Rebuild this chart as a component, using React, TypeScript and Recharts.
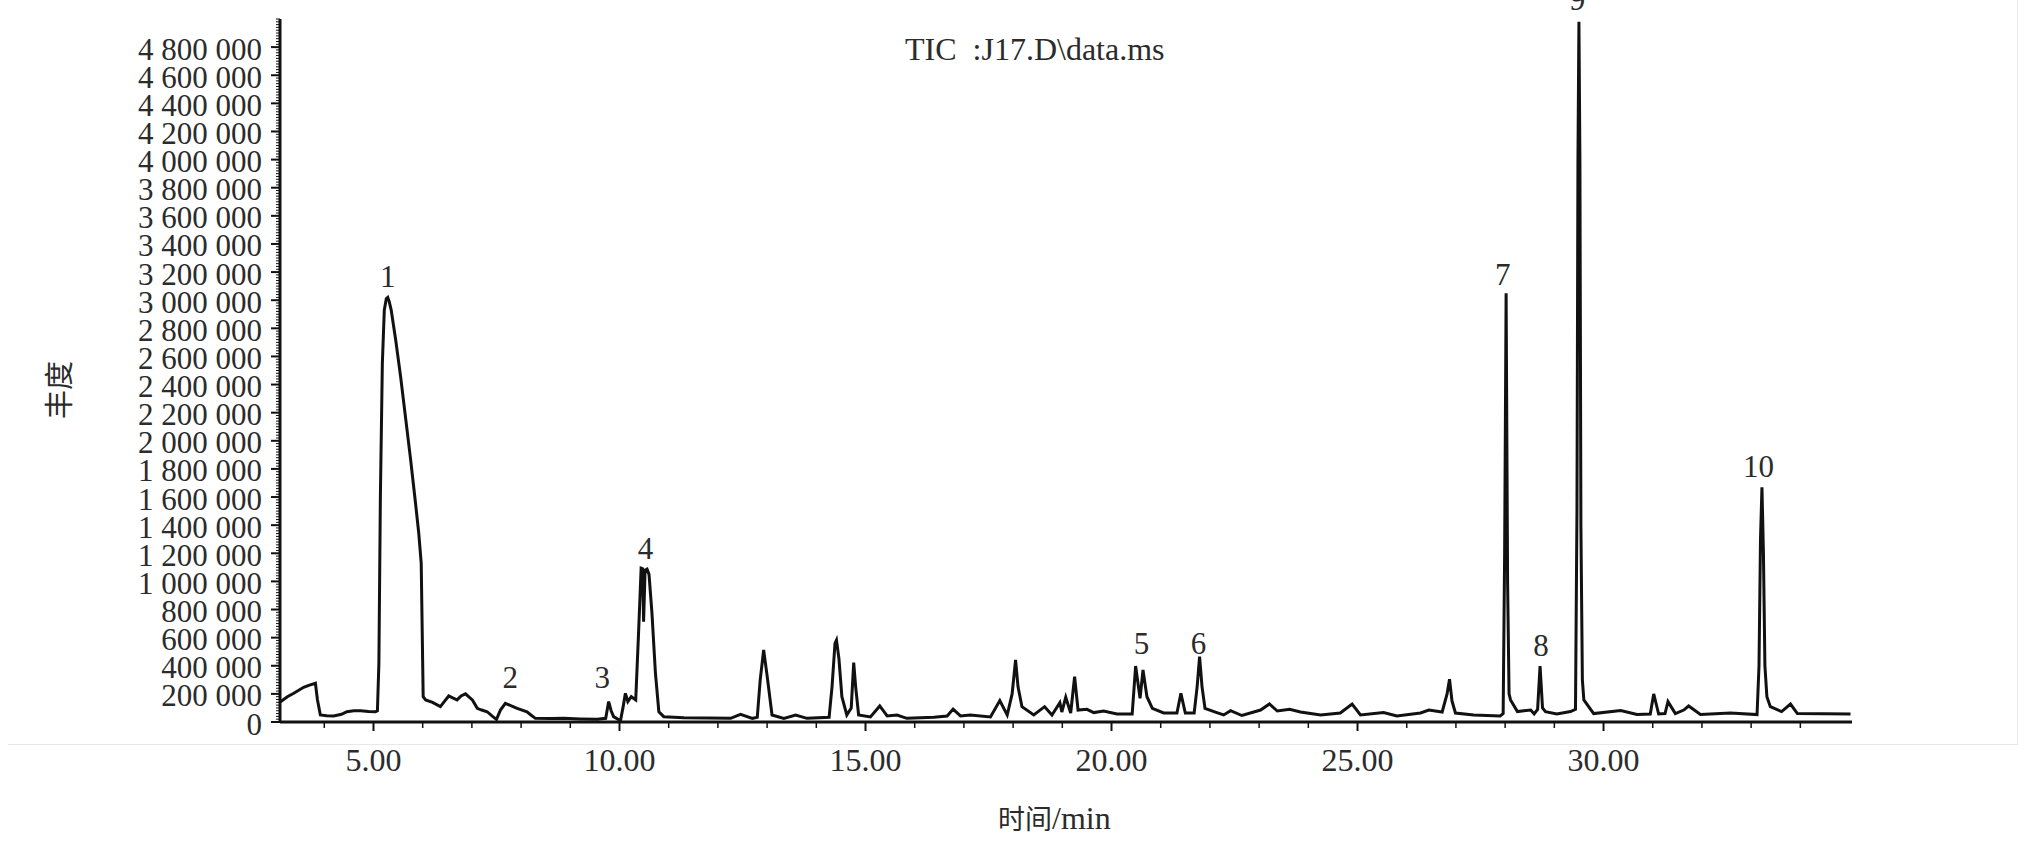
import { LineChart, Line, XAxis, YAxis, ReferenceDot } from "recharts";

// retention time (min) and abundance
const retentionTimes = [
	3.11, 3.25, 3.38, 3.58, 3.7, 3.82, 3.86, 3.92, 4.05, 4.19, 4.35, 4.46, 4.6, 4.74, 4.9, 5.04,
	5.08, 5.11, 5.14, 5.18, 5.22, 5.26, 5.29, 5.32, 5.36, 5.45, 5.55, 5.65, 5.75, 5.85, 5.92, 5.97,
	6.01, 6.06, 6.2, 6.36, 6.45, 6.53, 6.62, 6.7, 6.78, 6.87, 6.95, 7.01, 7.11, 7.2, 7.31, 7.42,
	7.5, 7.58, 7.68, 7.8, 7.92, 8.12, 8.2, 8.29, 8.6, 8.87, 9.2, 9.55, 9.72, 9.78, 9.83, 9.88,
	10.02, 10.08, 10.12, 10.17, 10.24, 10.33, 10.39, 10.44, 10.47, 10.49, 10.52, 10.56, 10.6, 10.66,
	10.73, 10.8, 10.9, 11.31, 11.8, 12.26, 12.46, 12.7, 12.8, 12.86, 12.93, 13.0, 13.1, 13.34,
	13.58, 13.81, 14.26, 14.32, 14.38, 14.41, 14.46, 14.52, 14.62, 14.71, 14.76, 14.8, 14.86,
	15.1, 15.29, 15.44, 15.64, 15.84, 16.39, 16.66, 16.78, 16.93, 17.13, 17.54, 17.73, 17.88,
	17.98, 18.05, 18.1, 18.18, 18.42, 18.64, 18.79, 18.95, 18.99, 19.07, 19.17, 19.25, 19.32,
	19.5, 19.64, 19.84, 20.11, 20.42, 20.46, 20.49, 20.58, 20.64, 20.72, 20.83, 21.06, 21.33,
	21.41, 21.5, 21.68, 21.74, 21.79, 21.84, 21.9, 22.14, 22.28, 22.42, 22.65, 23.03, 23.21,
	23.37, 23.62, 23.84, 24.25, 24.65, 24.89, 25.06, 25.53, 25.8, 26.28, 26.45, 26.72, 26.82,
	26.87, 26.92, 26.99, 27.36, 27.9, 27.96, 27.99, 28.02, 28.05, 28.08, 28.11, 28.25, 28.52,
	28.59, 28.66, 28.71, 28.76, 28.82, 29.05, 29.33, 29.43, 29.46, 29.48, 29.5, 29.52, 29.54,
	29.57, 29.6, 29.8, 30.35, 30.68, 30.95, 31.02, 31.12, 31.25, 31.31, 31.46, 31.63, 31.73,
	31.97, 32.58, 33.12, 33.16, 33.19, 33.22, 33.25, 33.28, 33.32, 33.39, 33.62, 33.8, 33.94,
	35.02,
];

const abundances = [
	144000, 180000, 204000, 247000, 262000, 275000, 160000, 50000, 44000, 43000, 55000, 73000,
	80000, 80000, 75000, 73000, 80000, 418000, 1600000, 2550000, 2930000, 3010000, 3020000,
	2990000, 2930000, 2720000, 2460000, 2170000, 1880000, 1570000, 1343000, 1130000, 180000,
	157000, 140000, 109000, 150000, 185000, 170000, 157000, 185000, 200000, 175000, 157000, 97000,
	85000, 73000, 40000, 19000, 85000, 133000, 115000, 97000, 73000, 50000, 26000, 25000, 26000,
	22000, 19000, 26000, 145000, 80000, 38000, 9000, 120000, 204000, 145000, 180000, 157000,
	655000, 1094000, 1090000, 714000, 1080000, 1087000, 1050000, 773000, 350000, 73000, 38000,
	31000, 28000, 26000, 54000, 26000, 33000, 300000, 512000, 330000, 50000, 26000, 50000, 26000,
	33000, 252000, 560000, 583000, 450000, 180000, 50000, 100000, 422000, 250000, 50000, 36000,
	114000, 43000, 50000, 26000, 33000, 43000, 92000, 43000, 50000, 36000, 152000, 50000, 200000,
	441000, 250000, 109000, 50000, 109000, 50000, 137000, 71000, 176000, 64000, 322000, 85000,
	90000, 67000, 78000, 57000, 57000, 250000, 398000, 168000, 370000, 180000, 97000, 64000, 64000,
	204000, 64000, 64000, 250000, 465000, 250000, 97000, 67000, 50000, 81000, 46000, 85000, 128000,
	78000, 90000, 71000, 50000, 64000, 128000, 50000, 67000, 43000, 64000, 85000, 71000, 200000,
	304000, 150000, 64000, 50000, 43000, 60000, 1200000, 3050000, 1000000, 200000, 157000, 74000,
	85000, 57000, 90000, 398000, 100000, 74000, 57000, 74000, 90000, 1500000, 4000000, 4980000,
	4000000, 1400000, 300000, 157000, 60000, 81000, 53000, 57000, 200000, 57000, 60000, 145000,
	60000, 85000, 114000, 53000, 64000, 53000, 400000, 1300000, 1670000, 1200000, 400000, 180000,
	109000, 74000, 128000, 60000, 57000,
];

// numbered peaks: label, time and height where the number sits
const peakNames = ["1", "2", "3", "4", "5", "6", "7", "8", "9", "10"];
const peakLabelTimes = [5.29, 7.78, 9.65, 10.53, 20.61, 21.77, 27.95, 28.73, 29.47, 33.15];
const peakLabelAbundances = [
	3020000, 171000, 171000, 1090000, 413000, 413000, 3040000, 398000, 4990000, 1670000,
];

const xTicks = [
	4, 5, 6, 7, 8, 9, 10, 11, 12, 13, 14, 15, 16, 17, 18, 19, 20, 21, 22, 23, 24, 25, 26, 27, 28,
	29, 30, 31, 32, 33, 34,
];
const yMajorStep = 200000;
const yMinorStep = 20000;
const yMax = 5000000;
const yLabelMax = 4800000;

const data = retentionTimes.map((t, i) => ({ t, v: abundances[i] }));
const yTicks: number[] = [];
for (let v = 0; v <= yMax; v += yMinorStep) yTicks.push(v);

const serif = "'Times New Roman', 'Liberation Serif', serif";
const cjk = "'Noto Sans CJK SC', sans-serif";
const ink = "#111";
const textInk = "#2b2b2b";

const fmtAbundance = (v: number) =>
	v === 0 ? "0" : v.toLocaleString("en-US").replace(/,/g, " ");

function YTick(props: any) {
	const { x, y, payload } = props;
	const major = payload.value % yMajorStep === 0 && payload.value <= yLabelMax;
	return (
		<g>
			<line
				x1={x - (major ? 9 : 4)}
				x2={x}
				y1={y}
				y2={y}
				stroke={ink}
				strokeWidth={major ? 2 : 1}
			/>
			{major && (
				<text
					x={x - 18}
					y={y + 2}
					dominantBaseline="central"
					textAnchor="end"
					fontFamily={serif}
					fontSize={31}
					fill={textInk}
				>
					{fmtAbundance(payload.value)}
				</text>
			)}
		</g>
	);
}

function XTick(props: any) {
	const { x, y, payload } = props;
	const major = payload.value % 5 === 0;
	return (
		<g>
			<line
				x1={x}
				x2={x}
				y1={y}
				y2={y + (major ? 9 : 6)}
				stroke={ink}
				strokeWidth={major ? 2 : 1.5}
			/>
			{major && (
				<text
					x={x}
					y={y + 38}
					dominantBaseline="central"
					textAnchor="middle"
					fontFamily={serif}
					fontSize={32}
					fill={textInk}
				>
					{payload.value.toFixed(2)}
				</text>
			)}
		</g>
	);
}

export default function App() {
	return (
		<div
			style={{
				position: "absolute",
				left: 0,
				top: 0,
				width: 2026,
				height: 842,
				background: "#fff",
			}}
		>
			<div
				style={{
					position: "absolute",
					left: 8,
					top: 0,
					width: 2010,
					height: 745,
					boxSizing: "border-box",
					borderRight: "1.5px solid #e8e8e8",
					borderBottom: "1.5px solid #e8e8e8",
				}}
			/>
			<div style={{ position: "absolute", left: 0, top: 0 }}>
				<LineChart
					width={2026}
					height={842}
					data={data}
					margin={{ top: 19, right: 174, bottom: 60, left: 0 }}
				>
					<XAxis
						dataKey="t"
						type="number"
						domain={[3.1, 35.05]}
						allowDataOverflow
						ticks={xTicks}
						interval={0}
						tickSize={0}
						tickMargin={0}
						tickLine={false}
						tick={<XTick />}
						height={60}
						axisLine={{ stroke: ink, strokeWidth: 3 }}
					/>
					<YAxis
						type="number"
						domain={[0, yMax]}
						allowDataOverflow
						ticks={yTicks}
						interval={0}
						tickSize={0}
						tickMargin={0}
						tickLine={false}
						tick={<YTick />}
						width={280}
						axisLine={{ stroke: ink, strokeWidth: 3 }}
					/>
					<Line
						dataKey="v"
						type="linear"
						stroke={ink}
						strokeWidth={3}
						dot={false}
						activeDot={false}
						isAnimationActive={false}
					/>
					{peakNames.map((name, i) => (
						<ReferenceDot
							key={name}
							x={peakLabelTimes[i]}
							y={peakLabelAbundances[i]}
							r={0}
							fill="none"
							stroke="none"
							ifOverflow="visible"
							label={{
								value: name,
								position: "top",
								offset: 10,
								fontFamily: serif,
								fontSize: 31,
								fill: textInk,
							}}
						/>
					))}
				</LineChart>
			</div>
			<svg
				width={2026}
				height={842}
				style={{ position: "absolute", left: 0, top: 0, pointerEvents: "none" }}
			>
				<text
					x={905}
					y={60}
					fontFamily={serif}
					fontSize={32}
					fill={textInk}
					style={{ whiteSpace: "pre" }}
				>
					{"TIC  :J17.D\\data.ms"}
				</text>
				<text
					x={57}
					y={390}
					transform="rotate(-90 57 390)"
					textAnchor="middle"
					dominantBaseline="central"
					fontFamily={cjk}
					fontSize={29}
					fill={textInk}
				>
					丰度
				</text>
				<text x={998} y={829} fontFamily={cjk} fontSize={27} fill={textInk}>
					时间
					<tspan fontFamily={serif} fontSize={32}>
						/min
					</tspan>
				</text>
			</svg>
		</div>
	);
}
